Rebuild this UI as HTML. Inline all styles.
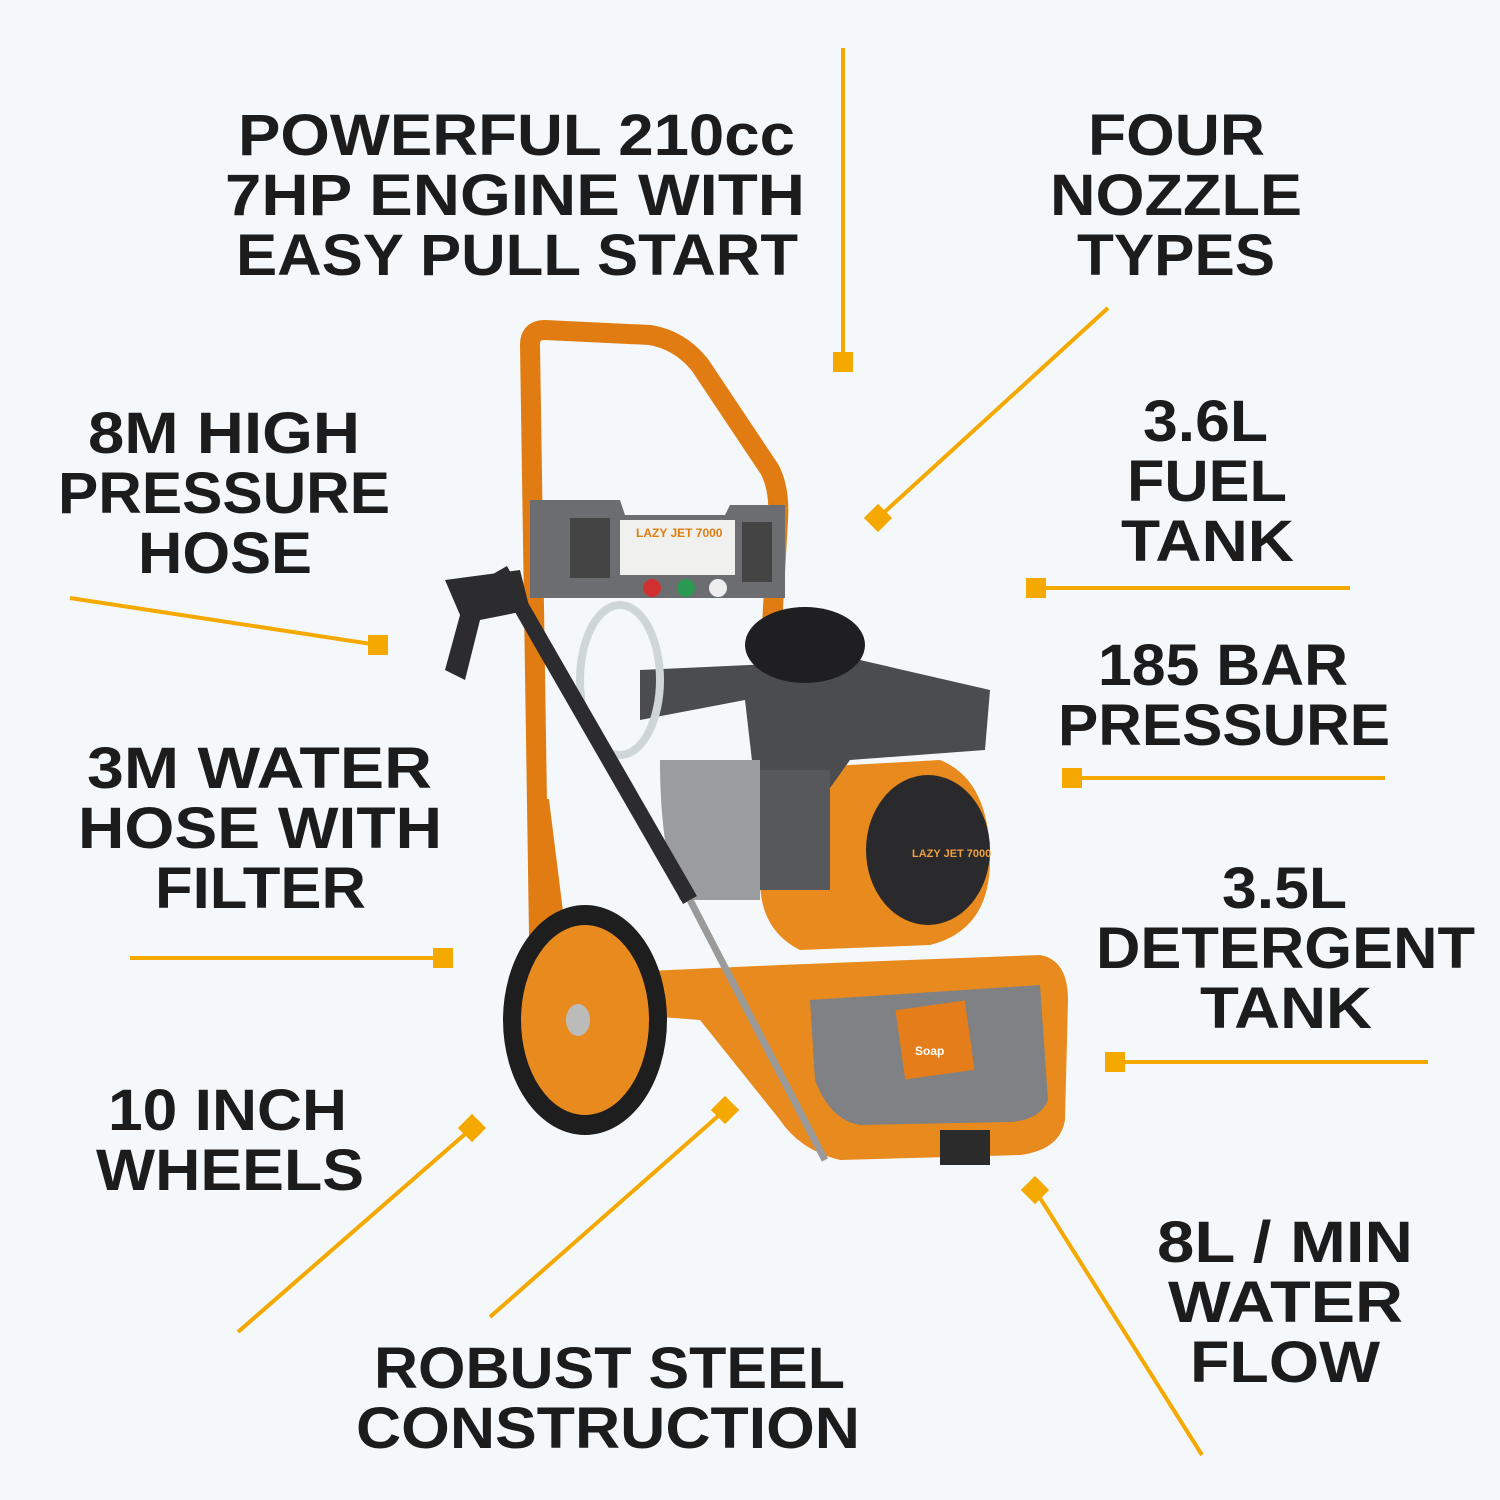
<!DOCTYPE html>
<html><head><meta charset="utf-8"><style>
html,body{margin:0;padding:0;background:#f4f8fa;}
svg{display:block}
text{font-family:"Liberation Sans",sans-serif;font-weight:bold;fill:#1c1c1c;font-size:58px}
</style></head><body>
<svg width="1500" height="1500" viewBox="0 0 1500 1500" xmlns="http://www.w3.org/2000/svg">
<rect width="1500" height="1500" fill="#f4f8fa"/>
<!-- labels -->
<g>
<text x="238" y="155" textLength="557" lengthAdjust="spacingAndGlyphs">POWERFUL 210cc</text>
<text x="225" y="215" textLength="580" lengthAdjust="spacingAndGlyphs">7HP ENGINE WITH</text>
<text x="236" y="275" textLength="562" lengthAdjust="spacingAndGlyphs">EASY PULL START</text>
<text x="1088" y="155" textLength="177" lengthAdjust="spacingAndGlyphs">FOUR</text>
<text x="1050" y="215" textLength="252" lengthAdjust="spacingAndGlyphs">NOZZLE</text>
<text x="1077" y="275" textLength="198" lengthAdjust="spacingAndGlyphs">TYPES</text>
<text x="88" y="453" textLength="272" lengthAdjust="spacingAndGlyphs">8M HIGH</text>
<text x="58" y="513" textLength="332" lengthAdjust="spacingAndGlyphs">PRESSURE</text>
<text x="138" y="573" textLength="174" lengthAdjust="spacingAndGlyphs">HOSE</text>
<text x="1143" y="441" textLength="125" lengthAdjust="spacingAndGlyphs">3.6L</text>
<text x="1127" y="501" textLength="160" lengthAdjust="spacingAndGlyphs">FUEL</text>
<text x="1121" y="561" textLength="173" lengthAdjust="spacingAndGlyphs">TANK</text>
<text x="1098" y="685" textLength="250" lengthAdjust="spacingAndGlyphs">185 BAR</text>
<text x="1058" y="745" textLength="332" lengthAdjust="spacingAndGlyphs">PRESSURE</text>
<text x="87" y="788" textLength="345" lengthAdjust="spacingAndGlyphs">3M WATER</text>
<text x="78" y="848" textLength="364" lengthAdjust="spacingAndGlyphs">HOSE WITH</text>
<text x="155" y="908" textLength="211" lengthAdjust="spacingAndGlyphs">FILTER</text>
<text x="1222" y="908" textLength="125" lengthAdjust="spacingAndGlyphs">3.5L</text>
<text x="1096" y="968" textLength="379" lengthAdjust="spacingAndGlyphs">DETERGENT</text>
<text x="1200" y="1028" textLength="172" lengthAdjust="spacingAndGlyphs">TANK</text>
<text x="108" y="1130" textLength="239" lengthAdjust="spacingAndGlyphs">10 INCH</text>
<text x="96" y="1190" textLength="268" lengthAdjust="spacingAndGlyphs">WHEELS</text>
<text x="374" y="1388" textLength="471" lengthAdjust="spacingAndGlyphs">ROBUST STEEL</text>
<text x="356" y="1448" textLength="504" lengthAdjust="spacingAndGlyphs">CONSTRUCTION</text>
<text x="1157" y="1262" textLength="256" lengthAdjust="spacingAndGlyphs">8L / MIN</text>
<text x="1168" y="1322" textLength="235" lengthAdjust="spacingAndGlyphs">WATER</text>
<text x="1190" y="1382" textLength="190" lengthAdjust="spacingAndGlyphs">FLOW</text>
</g>
<!-- connectors -->
<g stroke="#f5a800" stroke-width="4" fill="none">
<line x1="843" y1="48" x2="843" y2="362"/>
<line x1="1108" y1="308" x2="878" y2="518"/>
<line x1="70" y1="598" x2="378" y2="645"/>
<line x1="1036" y1="588" x2="1350" y2="588"/>
<line x1="1072" y1="778" x2="1385" y2="778"/>
<line x1="130" y1="958" x2="443" y2="958"/>
<line x1="1115" y1="1062" x2="1428" y2="1062"/>
<line x1="238" y1="1332" x2="472" y2="1128"/>
<line x1="490" y1="1317" x2="725" y2="1110"/>
<line x1="1035" y1="1190" x2="1202" y2="1455"/>
</g>
<g fill="#f5a800">
<rect x="833" y="352" width="20" height="20"/>
<rect x="868" y="508" width="20" height="20" transform="rotate(45 878 518)"/>
<rect x="368" y="635" width="20" height="20"/>
<rect x="1026" y="578" width="20" height="20"/>
<rect x="1062" y="768" width="20" height="20"/>
<rect x="433" y="948" width="20" height="20"/>
<rect x="1105" y="1052" width="20" height="20"/>
<rect x="462" y="1118" width="20" height="20" transform="rotate(45 472 1128)"/>
<rect x="715" y="1100" width="20" height="20" transform="rotate(45 725 1110)"/>
<rect x="1025" y="1180" width="20" height="20" transform="rotate(45 1035 1190)"/>
</g>
<!-- machine -->
<g>
<!-- handle frame -->
<path d="M540 1000 L530 345 Q530 330 545 330 L650 335 Q680 340 700 365 L770 470 Q780 490 778 520 L770 660" stroke="#e07c12" stroke-width="20" fill="none" stroke-linecap="round"/>
<path d="M540 800 L560 960" stroke="#e07c12" stroke-width="18" fill="none"/>
<!-- base frame -->
<path d="M560 975 L780 965 L1040 955 Q1068 960 1068 1000 L1065 1120 Q1060 1150 1020 1155 L840 1160 Q800 1150 780 1120 L700 1020 L570 1010 Z" fill="#e98a1e"/>
<path d="M810 1000 L1040 985 L1048 1100 Q1040 1120 1010 1122 L860 1125 Q830 1120 815 1080 Z" fill="#7f8184"/>
<rect x="900" y="1005" width="70" height="70" fill="#e57e1a" transform="rotate(-8 935 1040)"/>
<text x="915" y="1055" style="font-size:12px;fill:#fff">Soap</text>
<rect x="940" y="1130" width="50" height="35" fill="#2b2b2b"/>
<!-- engine orange cover -->
<path d="M760 770 L940 760 Q990 780 990 860 Q990 930 930 945 L800 950 Q760 930 760 880 Z" fill="#e98a1e"/>
<ellipse cx="928" cy="850" rx="62" ry="75" fill="#2a2a2c"/>
<text x="912" y="857" style="font-size:11px;fill:#f0a040">LAZY JET 7000</text>
<!-- engine body -->
<path d="M640 670 L860 660 L990 690 L985 750 L850 760 L800 830 L760 830 L745 700 L640 720 Z" fill="#4a4c50"/>
<rect x="760" y="770" width="70" height="120" fill="#56585c"/>
<path d="M660 760 L760 760 L760 900 L680 900 Q660 850 660 760 Z" fill="#9a9ca0"/>
<ellipse cx="805" cy="645" rx="60" ry="38" fill="#1f1f21"/>
<!-- control panel -->
<path d="M530 500 L620 500 L625 515 L725 515 L730 505 L785 505 L785 598 L530 598 Z" fill="#6b6d71"/>
<rect x="570" y="518" width="40" height="60" fill="#444"/>
<rect x="742" y="522" width="30" height="60" fill="#444"/>
<rect x="620" y="520" width="115" height="55" fill="#f0f0ee"/>
<text x="636" y="537" style="font-size:12px;fill:#e07c12">LAZY JET 7000</text>
<circle cx="652" cy="588" r="9" fill="#d03030"/>
<circle cx="686" cy="588" r="9" fill="#2a9a50"/>
<circle cx="718" cy="588" r="9" fill="#eee"/>
<!-- hose coil -->
<ellipse cx="620" cy="680" rx="40" ry="75" fill="none" stroke="#cfd6da" stroke-width="8"/>
<!-- gun -->
<path d="M445 580 L520 570 L530 610 L480 620 L465 680 L445 670 L460 615 Z" fill="#2c2c2e"/>
<path d="M500 570 L690 900" stroke="#2c2c2e" stroke-width="16"/>
<path d="M690 900 L825 1160" stroke="#9a9a9a" stroke-width="7"/>
<!-- wheel -->
<ellipse cx="585" cy="1020" rx="82" ry="115" fill="#1e1e1e"/>
<ellipse cx="585" cy="1020" rx="64" ry="95" fill="#e98a1e"/>
<ellipse cx="578" cy="1020" rx="12" ry="16" fill="#bbb"/>
</g>
</svg>
</body></html>
